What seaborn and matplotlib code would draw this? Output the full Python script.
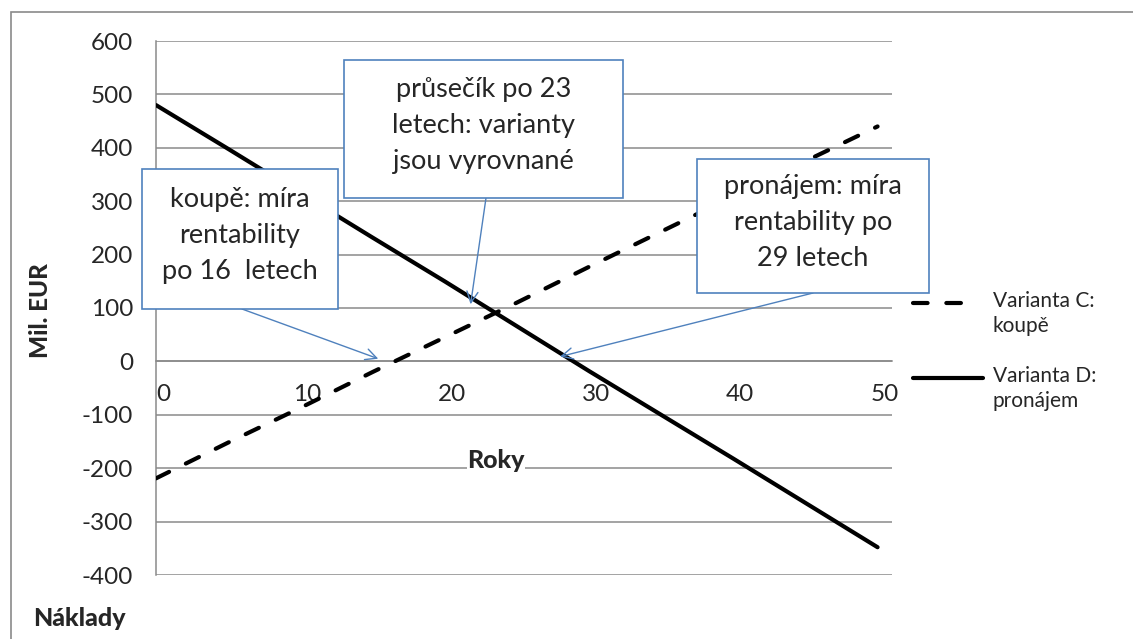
import matplotlib
matplotlib.use('Agg')
import matplotlib.pyplot as plt
import seaborn as sns
from matplotlib.patches import Rectangle
from matplotlib.lines import Line2D
from matplotlib.transforms import ScaledTranslation

# Data (Mil. EUR over years)
years = [0, 5, 10, 15, 20, 25, 30, 35, 40, 45, 50]
koupe = [-219, -152, -87, -20, 45, 110, 177, 243, 309, 375, 440]        # Varianta C
pronajem = [480, 398, 315, 232, 150, 66, -18, -100, -182, -265, -348]   # Varianta D
series_labels = ['Varianta C:\nkoupě', 'Varianta D:\npronájem']

sns.set_style('white')
plt.rcParams['font.family'] = ['Lato', 'DejaVu Sans']
plt.rcParams['axes.unicode_minus'] = False

W, H = 1133, 639
GRAY = '#8a8a8a'
BLUE = '#4f81bd'
fig = plt.figure(figsize=(W / 100, H / 100), dpi=100)
ax = fig.add_axes([156 / W, 1 - 575 / H, (892 - 156) / W, (575 - 41) / H])

dash = (0, (3.5, 4.5))
sns.lineplot(x=years, y=koupe, ax=ax, color='black', lw=3, linestyle=dash,
             dash_capstyle='round', zorder=3)
sns.lineplot(x=years, y=pronajem, ax=ax, color='black', lw=3, zorder=3)

ax.set_xlim(0, 51)
ax.set_ylim(-400, 600)
ax.set_yticks(range(-400, 601, 100))
ax.set_xticks(range(0, 51, 10))
ax.set_xticks(range(5, 51, 10), minor=True)
ax.yaxis.grid(True, color=GRAY, lw=1.1)
ax.set_axisbelow(True)

for s in ['top', 'right']:
    ax.spines[s].set_visible(False)
ax.spines['bottom'].set_position(('data', 0))
for s in ['left', 'bottom']:
    ax.spines[s].set_color(GRAY)
    ax.spines[s].set_linewidth(1.1)

ax.tick_params(axis='x', which='both', direction='out', length=5, width=1,
               color=GRAY, pad=11, labelsize=17.5)
ax.tick_params(axis='y', direction='out', length=6.5, width=1,
               color=GRAY, pad=10, labelsize=17.5)
offset = ScaledTranslation(7 / 100, 0, fig.dpi_scale_trans)
for lab in ax.get_xticklabels():
    lab.set_transform(lab.get_transform() + offset)
ax.set_xlabel('')
ax.set_ylabel('')


def fx(x):
    return x / W


def fy(y):
    return 1 - y / H


# axis titles
fig.text(fx(40), fy(311), 'Mil. EUR', rotation=90, ha='center', va='center',
         fontsize=17.5, fontweight='black')
fig.text(fx(496), fy(461), 'Roky', ha='center', va='center', fontsize=18,
         fontweight='black', bbox=dict(fc='white', ec='none', pad=0.5))
fig.text(fx(79), fy(618), 'Náklady', ha='center', va='center', fontsize=18,
         fontweight='black')

# callouts: box (left, top, right, bottom) in px, arrow start px, arrow tip in data
callouts = [
    ((142, 169, 338, 309), 'koupě: míra\nrentability\npo 16  letech', (242, 309), (15.4, 5)),
    ((344, 60, 623, 198), 'průsečík po 23\nletech: varianty\njsou vyrovnané', (486, 198), (21.8, 107)),
    ((697, 159, 929, 293), 'pronájem: míra\nrentability po\n29 letech', (813, 293), (28.0, 9)),
]
for (l, t, r, b), txt, start, tip in callouts:
    fig.add_artist(Rectangle((fx(l), fy(b)), (r - l) / W, (b - t) / H,
                             transform=fig.transFigure, fc='white', ec=BLUE,
                             lw=1.2, zorder=4))
    fig.text(fx((l + r) / 2), fy((t + b) / 2 - 3), txt, ha='center', va='center',
             fontsize=19.5, linespacing=1.55, zorder=5)
    ax.annotate('', xy=tip, xycoords='data', xytext=(start[0], H - start[1]),
                textcoords='figure pixels',
                arrowprops=dict(arrowstyle='->', color=BLUE, lw=1,
                                mutation_scale=20, shrinkA=0, shrinkB=0))

# legend on the right
leg_rows = [(303, dash, 913, 965), (378, '-', 913, 983)]
for (y, ls, x0, x1), lab in zip(leg_rows, series_labels):
    fig.add_artist(Line2D([fx(x0), fx(x1)], [fy(y), fy(y)], transform=fig.transFigure,
                          color='black', lw=3, linestyle=ls, dash_capstyle='round'))
    fig.text(fx(993), fy(y - 12), lab, ha='left', va='top', fontsize=15,
             linespacing=1.3)

# outer chart border
fig.add_artist(Rectangle((fx(11), -0.1), 1.2, fy(12) + 0.1, transform=fig.transFigure,
                         fc='none', ec=GRAY, lw=1.2, zorder=0))

plt.savefig('out.png', dpi=100)
